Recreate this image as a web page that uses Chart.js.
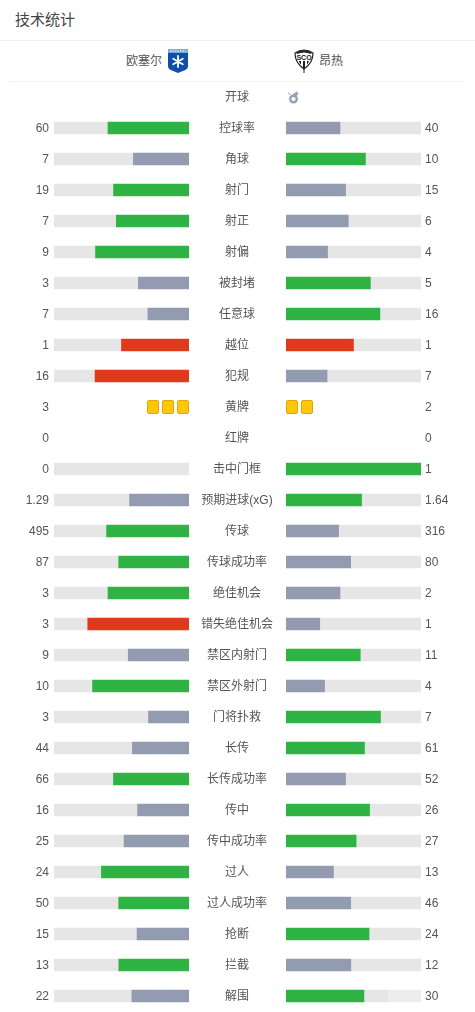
<!DOCTYPE html>
<html lang="zh">
<head>
<meta charset="utf-8">
<title>技术统计</title>
<script src="https://cdn.jsdelivr.net/npm/chart.js@4/dist/chart.umd.min.js"></script>
<style>
  html, body { margin: 0; padding: 0; background: #fff; }
  body { position: relative; width: 475px; height: 1012px; overflow: hidden; font-family: "Liberation Sans", "Noto Sans CJK SC", sans-serif; color: #555; }
  .abs { position: absolute; }
  canvas { position: absolute; display: block; }
  .title { left: 15px; top: 9px; font-size: 15px; line-height: 22px; color: #444; }
  .team { top: 52px; font-size: 12px; line-height: 18px; }
  .rule { height: 1px; background: #f0f0f0; }
</style>
</head>
<body>
<div class="abs title">技术统计</div>
<div class="abs rule" style="left:0;top:40px;width:475px"></div>
<div class="abs team" style="left:126px">欧塞尔</div>
<svg class="abs" style="left:167px;top:48px" width="22" height="26" viewBox="0 0 22 26">
  <path d="M1 1h20v17q0 3-4 4.500L11 25l-6-2.500Q1 21 1 18z" fill="#0f4fa8"/>
  <rect x="1" y="1" width="20" height="4" fill="#7fa6d8"/>
  <path d="M3 3h16" stroke="#fff" stroke-width="1" stroke-dasharray="1.500 1"/>
  <g stroke="#fff" stroke-width="1.800" stroke-linecap="round">
    <path d="M11 8v11M6.200 10.700l9.600 5.600M6.200 16.300l9.600-5.600"/>
  </g>
</svg>
<svg class="abs" style="left:294px;top:48px" width="20" height="26" viewBox="0 0 20 26">
  <path d="M1 5Q10 -1 19 5Q19 15 10 21Q1 15 1 5z" fill="#fff" stroke="#222" stroke-width="1.200"/>
  <path d="M2 4.500Q10 0 18 4.500L17 6Q10 3 3 6z" fill="#222"/>
  <path d="M5 13h2v3.500L5.500 15zM9 13h2v7H9zM13 13h2l-1.500 3L13 16.500z" fill="#222"/>
  <path d="M10 20v5" stroke="#222" stroke-width="1"/>
  <text x="10" y="12" text-anchor="middle" font-size="7" font-weight="700" fill="#222" font-family="Liberation Sans">SCO</text>
</svg>
<div class="abs team" style="left:319px">昂热</div>
<div class="abs rule" style="left:9px;top:81px;width:456px"></div>
<svg class="abs" style="left:286px;top:90px" width="14" height="14" viewBox="0 0 14 14">
  <circle cx="7.500" cy="9" r="3.300" fill="none" stroke="#98a1b5" stroke-width="2.400"/>
  <path d="M5 6L10.500 1.500L12.500 3.500L10 7z" fill="#98a1b5"/>
  <path d="M2 2.500L4.500 5" stroke="#c3c8d3" stroke-width="1.500"/>
</svg>
<canvas id="chartLeft" style="left:0;top:71px" width="189" height="951"></canvas>
<canvas id="chartRight" style="left:189px;top:71px" width="286" height="951"></canvas>
<div class="abs" style="left:388px;top:988px;width:34px;height:16px;background:rgba(255,255,255,.3)"></div>
<script>
const categories = ['开球', '控球率', '角球', '射门', '射正', '射偏', '被封堵', '任意球', '越位', '犯规', '黄牌', '红牌', '击中门框', '预期进球(xG)', '传球', '传球成功率', '绝佳机会', '错失绝佳机会', '禁区内射门', '禁区外射门', '门将扑救', '长传', '长传成功率', '传中', '传中成功率', '过人', '过人成功率', '抢断', '拦截', '解围'];
const valoresCasa = [null, 60, 7, 19, 7, 9, 3, 7, 1, 16, 3, 0, 0, 1.29, 495, 87, 3, 3, 9, 10, 3, 44, 66, 16, 25, 24, 50, 15, 13, 22];
const valoresFora = [null, 40, 10, 15, 6, 4, 5, 16, 1, 7, 2, 0, 1, 1.64, 316, 80, 2, 1, 11, 4, 7, 61, 52, 26, 27, 13, 46, 24, 12, 30];
const linhasSemBarra = ['开球', '黄牌', '红牌'];
const linhasNegativas = ['越位', '犯规', '错失绝佳机会'];

const VERDE = '#2fb344';
const CINZA = '#929bb0';
const VERMELHO = '#e03a1c';
const TRILHO = '#e6e6e6';
const FONTE = { family: '"Liberation Sans", "Noto Sans CJK SC", sans-serif', size: 12 };
const COR_TEXTO = '#555';

// cada barra mostra a parte do time no total da linha
function parte(meu, outro, cat) {
  if (linhasSemBarra.includes(cat)) return null;
  return meu / (meu + outro) * 100;
}

function cor(meu, outro, cat) {
  if (meu < outro) return CINZA;
  if (linhasNegativas.includes(cat)) return VERMELHO;
  return VERDE;
}

function textoValor(v) {
  return v === null ? '' : String(v);
}

// cartões amarelos: um quadradinho por cartão, a partir do zero da escala
const cartoesPlugin = {
  id: 'cartoes',
  afterDatasetsDraw(chart, args, opts) {
    const { ctx, scales } = chart;
    const y = scales.y.getPixelForValue(categories.indexOf('黄牌'));
    const inicio = scales.x.getPixelForValue(0);
    const dir = scales.x.options.reverse ? -1 : 1;
    for (let i = 0; i < opts.total; i++) {
      const x = dir > 0 ? inicio + i * 15 : inicio - i * 15 - 12;
      ctx.save();
      ctx.fillStyle = '#ffc60a';
      ctx.strokeStyle = '#e0a800';
      ctx.beginPath();
      ctx.roundRect(x + 0.5, y - 6.5, 11, 13, 1.5);
      ctx.fill();
      ctx.stroke();
      ctx.restore();
    }
  }
};

// desce o texto dos eixos 1px para alinhar com as barras
const textoPlugin = {
  id: 'textoAbaixo',
  beforeDraw(chart) {
    Object.values(chart.scales).forEach(scale => {
      if (scale._descido) return;
      const original = scale.drawLabels;
      scale.drawLabels = function (area) {
        chart.ctx.save();
        chart.ctx.translate(0, 1);
        original.call(scale, area);
        chart.ctx.restore();
      };
      scale._descido = true;
    });
  }
};

function montarChart(canvas, meus, outros, reverso, eixosY, totalCartoes) {
  const partes = categories.map((c, i) => parte(meus[i], outros[i], c));
  const resto = partes.map(p => (p === null ? null : 100 - p));
  return new Chart(canvas, {
    type: 'bar',
    data: {
      labels: categories,
      datasets: [
        { data: partes.map(p => p || null), backgroundColor: categories.map((c, i) => cor(meus[i], outros[i], c)), barThickness: 12, borderWidth: 0 },
        { data: resto, backgroundColor: TRILHO, barThickness: 12, borderWidth: 0 }
      ]
    },
    options: {
      indexAxis: 'y',
      responsive: false,
      animation: false,
      events: [],
      layout: { padding: { top: 10.5, bottom: 10.5, left: 0, right: 0 } },
      scales: {
        x: { display: false, stacked: true, min: 0, max: 100, reverse: reverso },
        ...eixosY
      },
      plugins: {
        legend: { display: false },
        tooltip: { enabled: false },
        cartoes: { total: totalCartoes }
      }
    },
    plugins: [cartoesPlugin, textoPlugin]
  });
}

// o padding dos ticks encolhe a área do gráfico, por isso o recuo vai em tickLength
function eixoTexto(opcoes, largura, recuo, ticks) {
  return {
    stacked: true,
    offset: true,
    afterFit(axis) { axis.width = largura; },
    grid: { display: false, drawTicks: true, tickLength: recuo },
    border: { display: false },
    ...opcoes,
    ticks: { autoSkip: false, padding: 0, font: FONTE, color: COR_TEXTO, ...ticks }
  };
}

const cartoesIdx = categories.indexOf('黄牌');

montarChart(document.getElementById('chartLeft'), valoresCasa, valoresFora, true, {
  y: eixoTexto({ position: 'left' }, 54, 5, { callback: (v, i) => textoValor(valoresCasa[i]) })
}, valoresCasa[cartoesIdx]);

montarChart(document.getElementById('chartRight'), valoresFora, valoresCasa, false, {
  y: eixoTexto({ position: 'left' }, 97, 13, { crossAlign: 'center' }),
  yValor: eixoTexto({ type: 'category', position: 'right', labels: valoresFora.map(textoValor) }, 54, 4, {})
}, valoresFora[cartoesIdx]);
</script>
</body>
</html>
